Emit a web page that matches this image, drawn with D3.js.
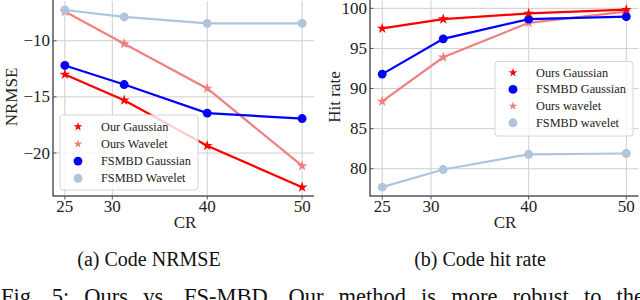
<!DOCTYPE html>
<html>
<head>
<meta charset="utf-8">
<script src="https://cdn.jsdelivr.net/npm/d3@7"></script>
<style>
	body { margin: 0; background: white; }
	svg { display: block; }
</style>
</head>
<body>
<svg id="fig" width="640" height="300"></svg>
<script>
// x values (compression ratio)
var crValues = [25, 31.25, 40, 50];
var crTicks = [25, 30, 40, 50];

// (a) NRMSE
var nrmseOurGaussian = [-13.0, -15.3, -19.35, -23.05];
var nrmseOursWavelet = [-7.4, -10.27, -14.25, -21.15];
var nrmseFsmbdGaussian = [-12.2, -13.9, -16.45, -16.93];
var nrmseFsmbdWavelet = [-7.26, -7.88, -8.45, -8.45];
var nrmseTicks = [-10, -15, -20];

// (b) hit rate
var hitOursGaussian = [97.5, 98.66, 99.37, 99.84];
var hitFsmbdGaussian = [91.8, 96.2, 98.66, 98.96];
var hitOursWavelet = [88.4, 93.9, 98.2, 99.6];
var hitFsmbdWavelet = [77.7, 79.9, 81.8, 81.9];
var hitTicks = [80, 85, 90, 95, 100];

var SERIF = "'Liberation Serif', 'Times New Roman', serif";
var svg = d3.select("#fig");

function drawPanel(opt) {
	var g = svg.append("g");
	var x = d3.scaleLinear().domain([23.75, 51.25]).range(opt.xRange);
	var y = d3.scaleLinear().domain(opt.yDomain).range([196, opt.yTop]);
	var x0 = opt.xRange[0], x1 = opt.xRange[1];

	// grid
	g.selectAll(".vgrid").data(crTicks).enter().append("line")
		.attr("x1", d => x(d)).attr("x2", d => x(d))
		.attr("y1", y.range()[1]).attr("y2", 196)
		.attr("stroke", "#cfcfcf").attr("stroke-width", 1);
	g.selectAll(".hgrid").data(opt.yTicks).enter().append("line")
		.attr("x1", x0).attr("x2", x1)
		.attr("y1", d => y(d)).attr("y2", d => y(d))
		.attr("stroke", "#cfcfcf").attr("stroke-width", 1);

	// series lines + markers
	var line = d3.line().x((d, i) => x(crValues[i])).y(d => y(d));
	opt.series.forEach(function(s) {
		g.append("path")
			.attr("d", line(s.values))
			.attr("fill", "none")
			.attr("stroke", s.color)
			.attr("stroke-width", 2.2);
		var sym = s.star ? d3.symbol(d3.symbolStar, 36) : d3.symbol(d3.symbolCircle, 62);
		g.selectAll(null).data(s.values).enter().append("path")
			.attr("d", sym)
			.attr("transform", (d, i) => "translate(" + x(crValues[i]) + "," + y(d) + ")")
			.attr("fill", s.color);
	});

	// spines (left + bottom only)
	g.append("line").attr("x1", x0).attr("x2", x0).attr("y1", 0).attr("y2", 196.5)
		.attr("stroke", "#555").attr("stroke-width", 1.5);
	g.append("line").attr("x1", x0).attr("x2", x1).attr("y1", 196).attr("y2", 196)
		.attr("stroke", "#555").attr("stroke-width", 1.5);

	// ticks
	g.selectAll(".xt").data(crTicks).enter().append("line")
		.attr("x1", d => x(d)).attr("x2", d => x(d))
		.attr("y1", 196).attr("y2", 199.5)
		.attr("stroke", "#555").attr("stroke-width", 1);
	g.selectAll(".xtl").data(crTicks).enter().append("text")
		.attr("x", d => x(d)).attr("y", 212)
		.attr("text-anchor", "middle")
		.attr("font-family", SERIF).attr("font-size", 17)
		.attr("fill", "#222")
		.text(d => d);
	g.selectAll(".yt").data(opt.yTicks).enter().append("line")
		.attr("x1", x0).attr("x2", x0 + 3.5)
		.attr("y1", d => y(d)).attr("y2", d => y(d))
		.attr("stroke", "#555").attr("stroke-width", 1);
	g.selectAll(".ytl").data(opt.yTicks).enter().append("text")
		.attr("x", x0 - 3).attr("y", d => y(d) + 5.5)
		.attr("text-anchor", "end")
		.attr("font-family", SERIF).attr("font-size", 17)
		.attr("fill", "#222")
		.text(d => d < 0 ? "\u2212" + Math.abs(d) : d);

	// axis labels
	g.append("text")
		.attr("x", opt.xLabelX).attr("y", 228)
		.attr("text-anchor", "middle")
		.attr("font-family", SERIF).attr("font-size", 17)
		.attr("fill", "#222")
		.text("CR");
	g.append("text")
		.attr("transform", "translate(" + opt.yLabelX + ",97) rotate(-90)")
		.attr("text-anchor", "middle")
		.attr("dy", "0.35em")
		.attr("font-family", SERIF).attr("font-size", 17)
		.attr("fill", "#222")
		.text(opt.yLabel);

	// legend
	var lg = opt.legend;
	g.append("rect")
		.attr("x", lg.x).attr("y", lg.y)
		.attr("width", lg.w).attr("height", lg.h)
		.attr("rx", 3)
		.attr("fill", "white").attr("fill-opacity", 0.8)
		.attr("stroke", "#d6d6d6").attr("stroke-width", 1);
	lg.order.forEach(function(k, i) {
		var s = opt.series[k];
		var ry = lg.rowY + i * lg.step;
		var sym = s.star ? d3.symbol(d3.symbolStar, 24) : d3.symbol(d3.symbolCircle, 62);
		g.append("path")
			.attr("d", sym)
			.attr("transform", "translate(" + (lg.x + 18) + "," + ry + ")")
			.attr("fill", s.color);
		g.append("text")
			.attr("x", lg.x + 41).attr("y", ry + 4)
			.attr("font-family", SERIF).attr("font-size", 12.3)
			.attr("fill", "#222")
			.text(s.name);
	});

	// caption
	g.append("text")
		.attr("x", opt.capX).attr("y", 266)
		.attr("text-anchor", "middle")
		.attr("font-family", SERIF).attr("font-size", 20)
		.attr("fill", "#111")
		.text(opt.caption);
}

drawPanel({
	xRange: [53, 314],
	yDomain: [-23.83, -6.46],
	yTop: 1,
	yTicks: nrmseTicks,
	yLabel: "NRMSE",
	yLabelX: 11,
	xLabelX: 185,
	caption: "(a) Code NRMSE",
	capX: 149,
	series: [
		{ name: "Our Gaussian", values: nrmseOurGaussian, color: "#ff0000", star: true },
		{ name: "Ours Wavelet", values: nrmseOursWavelet, color: "#f08080", star: true },
		{ name: "FSMBD Gaussian", values: nrmseFsmbdGaussian, color: "#0000ff", star: false },
		{ name: "FSMBD Wavelet", values: nrmseFsmbdWavelet, color: "#b0c4de", star: false }
	],
	legend: { x: 60, y: 115, w: 138, h: 75, rowY: 126.7, step: 17.2, order: [0, 1, 2, 3] }
});

drawPanel({
	xRange: [370, 638.5],
	yDomain: [76.6, 100.98],
	yTop: 0.5,
	yTicks: hitTicks,
	yLabel: "Hit rate",
	yLabelX: 334,
	xLabelX: 505,
	caption: "(b) Code hit rate",
	capX: 480,
	series: [
		{ name: "Ours wavelet", values: hitOursWavelet, color: "#f08080", star: true },
		{ name: "FSMBD wavelet", values: hitFsmbdWavelet, color: "#b0c4de", star: false },
		{ name: "FSMBD Gaussian", values: hitFsmbdGaussian, color: "#0000ff", star: false },
		{ name: "Ours Gaussian", values: hitOursGaussian, color: "#ff0000", star: true }
	],
	legend: { x: 495, y: 61.5, w: 138, h: 74.5, rowY: 72.7, step: 16.7, order: [3, 2, 0, 1] }
});

// figure caption, cut off by the bottom edge; justified by widening the spaces
var fig = svg.append("text")
	.attr("x", 1).attr("y", 304)
	.attr("font-family", SERIF).attr("font-size", 22.5)
	.attr("fill", "#111")
	.text("Fig. 5: Ours vs. FS-MBD. Our method is more robust to the");
var natural = fig.node().getComputedTextLength();
var gaps = fig.text().split(" ").length - 1;
fig.attr("word-spacing", Math.max(0, (643 - natural) / gaps));
</script>
</body>
</html>
